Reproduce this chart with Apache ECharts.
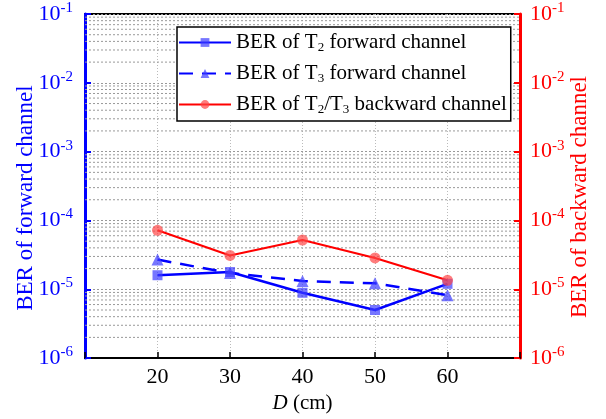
<!DOCTYPE html>
<html>
<head>
<meta charset="utf-8">
<script src="https://cdn.jsdelivr.net/npm/echarts@6/dist/echarts.min.js"></script>
<style>
  html, body { margin: 0; padding: 0; background: #fff; }
  #main { width: 606px; height: 419px; }
</style>
</head>
<body>
<div id="main"></div>
<script>
  // distance D (cm)
  const distances = [20, 30, 40, 50, 60];
  // BER values
  const berT2Forward = [1.6e-5, 1.78e-5, 8.9e-6, 5.0e-6, 1.2e-5];
  const berT3Forward = [2.7e-5, 1.72e-5, 1.32e-5, 1.22e-5, 8.2e-6];
  const berBackward = [7.2e-5, 3.1e-5, 5.2e-5, 2.85e-5, 1.35e-5];
  // minor grid lines (2..9 x 10^k)
  const decades = [-6, -5, -4, -3, -2];
  const mantissas = [2, 3, 4, 5, 6, 7, 8, 9];

  const names = ['T2f', 'T3f', 'Bk'];
  const legendText = {
    T2f: 'BER of T{sub|2} forward channel',
    T3f: 'BER of T{sub|3} forward channel',
    Bk: 'BER of T{sub|2}/T{sub|3} backward channel'
  };

  let minorLines = [];
  decades.forEach(function (k) {
    mantissas.forEach(function (m) {
      minorLines.push([10, m * Math.pow(10, k)]);
    });
  });

  const serif = '"Liberation Serif", "DejaVu Serif", serif';
  const gridGray = '#999';

  function pairs(ys) {
    return distances.map(function (d, i) { return [d, ys[i]]; });
  }

  function expLabel(v) {
    let e = Math.round(Math.log10(v));
    return '{b|10}{s|' + e + '}';
  }

  let myChart = echarts.init(document.getElementById('main'));
  myChart.setOption({
    animation: false,
    textStyle: { fontFamily: serif },
    grid: {
      left: 85, right: 86, top: 14, bottom: 56,
      show: true, borderColor: '#000', borderWidth: 2
    },
    legend: {
      data: names,
      orient: 'vertical',
      left: 177, top: 27,
      padding: [5, 4, 5, 1],
      itemGap: 9,
      itemWidth: 52,
      itemHeight: 11,
      backgroundColor: '#fff',
      borderColor: '#000',
      borderWidth: 1.5,
      formatter: function (n) { return legendText[n]; },
      textStyle: {
        fontFamily: serif, fontSize: 21, color: '#000',
        rich: {
          sub: { fontFamily: serif, fontSize: 13, verticalAlign: 'bottom', padding: [10, 0, 0, 0] }
        }
      }
    },
    xAxis: {
      type: 'value',
      min: 10, max: 70, interval: 10,
      name: '{i|D} (cm)',
      nameLocation: 'middle',
      nameGap: 30,
      nameTextStyle: {
        fontFamily: serif, fontSize: 21, color: '#000',
        rich: { i: { fontFamily: serif, fontSize: 21, fontStyle: 'italic', color: '#000' } }
      },
      axisLine: { lineStyle: { color: '#000', width: 2 } },
      axisTick: { inside: true, length: 6, lineStyle: { color: '#000', width: 1.5 } },
      axisLabel: {
        fontFamily: serif, fontSize: 22, color: '#000', margin: 8,
        formatter: function (v) { return (v === 10 || v === 70) ? '' : String(v); }
      },
      splitLine: { show: true, lineStyle: { color: '#bbb', type: [1, 2], width: 1 } }
    },
    yAxis: [
      {
        type: 'log', logBase: 10,
        min: 1e-6, max: 1e-1,
        position: 'left',
        name: 'BER of forward channel',
        nameLocation: 'middle',
        nameGap: 48,
        nameMoveOverlap: false,
        nameTextStyle: { fontFamily: serif, fontSize: 23, color: '#0000ff', padding: [0, 24, 0, 0] },
        axisLine: { show: true, lineStyle: { color: '#0000ff', width: 3 } },
        axisTick: { inside: true, length: 6, lineStyle: { color: '#0000ff', width: 2 } },
        axisLabel: {
          color: '#0000ff', margin: 12,
          formatter: expLabel,
          rich: {
            b: { fontFamily: serif, fontSize: 22, color: '#0000ff' },
            s: { fontFamily: serif, fontSize: 15, color: '#0000ff', verticalAlign: 'top', padding: [0, 0, 12, 0] }
          }
        },
        splitLine: { show: true, lineStyle: { color: gridGray, type: [2, 2], width: 1 } }
      },
      {
        type: 'log', logBase: 10,
        min: 1e-6, max: 1e-1,
        position: 'right',
        name: 'BER of backward channel',
        nameLocation: 'middle',
        nameGap: 48,
        nameMoveOverlap: false,
        nameRotate: 90,
        nameTextStyle: { fontFamily: serif, fontSize: 23, color: '#ff0000', padding: [0, 22, 0, 0] },
        axisLine: { show: true, lineStyle: { color: '#ff0000', width: 3 } },
        axisTick: { inside: true, length: 6, lineStyle: { color: '#ff0000', width: 2 } },
        axisLabel: {
          color: '#ff0000', margin: 10,
          formatter: expLabel,
          rich: {
            b: { fontFamily: serif, fontSize: 22, color: '#ff0000' },
            s: { fontFamily: serif, fontSize: 15, color: '#ff0000', verticalAlign: 'top', padding: [0, 0, 12, 0] }
          }
        },
        splitLine: { show: false }
      }
    ],
    series: [
      {
        // minor grid lines on the log scale
        type: 'custom',
        silent: true,
        z: 1,
        data: minorLines,
        encode: { x: 0, y: 1 },
        renderItem: function (params, api) {
          let y = api.value(1);
          let p1 = api.coord([10, y]);
          let p2 = api.coord([70, y]);
          return {
            type: 'line',
            shape: { x1: p1[0], y1: p1[1], x2: p2[0], y2: p2[1] },
            style: { stroke: gridGray, lineWidth: 1, lineDash: [2, 2] }
          };
        }
      },
      {
        name: 'T2f',
        type: 'line',
        data: pairs(berT2Forward),
        symbol: 'rect',
        symbolSize: 10,
        lineStyle: { color: '#0000ff', width: 2.5 },
        itemStyle: { color: 'rgba(60,60,255,0.7)' },
        z: 5
      },
      {
        name: 'T3f',
        type: 'line',
        data: pairs(berT3Forward),
        symbol: 'triangle',
        symbolSize: 12,
        lineStyle: { color: '#0000ff', width: 2.5, type: [14, 9] },
        itemStyle: { color: 'rgba(60,60,255,0.7)' },
        z: 5
      },
      {
        name: 'Bk',
        type: 'line',
        yAxisIndex: 1,
        data: pairs(berBackward),
        symbol: 'circle',
        symbolSize: 11,
        lineStyle: { color: '#ff0000', width: 2.2 },
        itemStyle: { color: 'rgba(255,70,70,0.7)' },
        z: 5
      }
    ]
  });
</script>
</body>
</html>
